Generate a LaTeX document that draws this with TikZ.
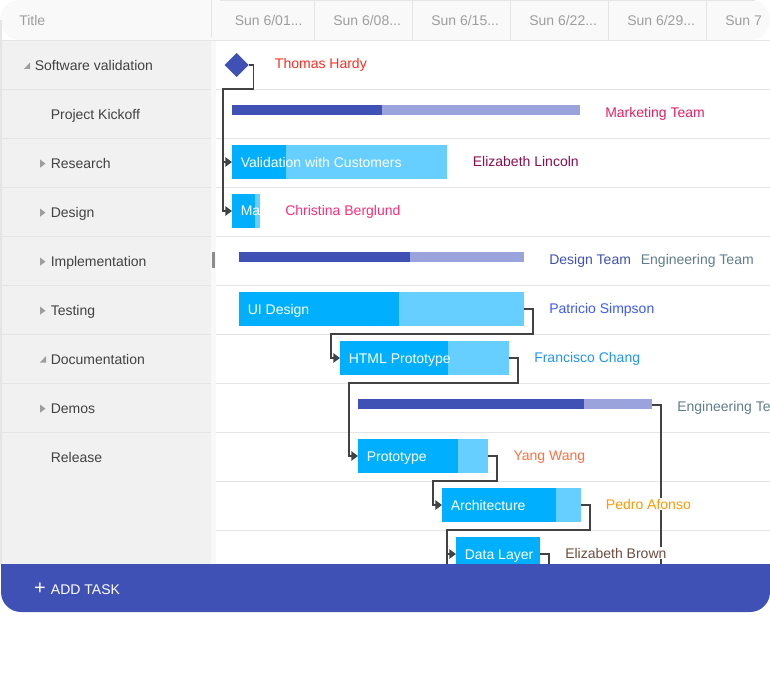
\documentclass[tikz,border=0pt]{standalone}
\usepackage{fontspec}
\setmainfont{Liberation Sans}
\usetikzlibrary{arrows.meta,positioning}

\definecolor{headbg}{HTML}{F9F9F9}
\definecolor{panebg}{HTML}{F1F1F1}
\definecolor{stripbg}{HTML}{F8F8F8}
\definecolor{gridline}{HTML}{E5E5E5}
\definecolor{headtext}{HTML}{9E9E9E}
\definecolor{rowtext}{HTML}{424242}
\definecolor{indigo}{HTML}{3F51B5}
\definecolor{indigolight}{HTML}{9AA3DC}
\definecolor{sky}{HTML}{00B0FF}
\definecolor{skylight}{HTML}{66CFFF}

\begin{document}
\begin{tikzpicture}[
    x=0.75pt, y=-0.75pt,
    font=\fontsize{10.5pt}{12pt}\selectfont,
    bar/.style={rectangle, anchor=north west, inner sep=0pt, outer sep=0pt, minimum height=25.5pt},
    summary/.style={rectangle, anchor=north west, inner sep=0pt, outer sep=0pt, minimum height=7.5pt},
    wide/.style={minimum width=#1*0.75pt},
    headcell/.style={anchor=base west, inner sep=0pt, text=headtext},
    rowtitle/.style={anchor=base west, inner sep=0pt, text=rowtext},
    tasktext/.style={anchor=base west, inner sep=0pt, text=white},
    person/.style={anchor=base west, inner xsep=0pt, inner ysep=1pt, fill=white},
    grid/.style={draw=gridline, line width=0.75pt},
    twisty/.style={fill=headtext},
    link/.style={draw=rowtext, line width=1.35pt},
    arrow/.style={link, -{Triangle[length=5pt,width=7pt]}}
]
\useasboundingbox (0,0) rectangle (770,677);

% header and panes
\fill[headbg, rounded corners=15pt] (0,40) -- (0,0) -- (770,0) -- (770,40) -- cycle;
\fill[panebg] (1.5,40) rectangle (211,564);
\fill[stripbg] (211,40) rectangle (216,564);
\fill[white] (216,40) rectangle (770,564);
\fill[gridline] (0,20) rectangle (1.5,564);
\fill[gray!90] (212,252) rectangle (215,268);

\draw[grid] (220,0.4) -- (755,0.4);
\draw[grid] (0,40.5) -- (770,40.5);
\draw[grid] (211,0) -- (211,38);
\draw[grid] (314.6,0) -- (314.6,40);
\draw[grid] (412.6,0) -- (412.6,40);
\draw[grid] (510.6,0) -- (510.6,40);
\draw[grid] (608.6,0) -- (608.6,40);
\draw[grid] (706.6,0) -- (706.6,40);

% row lines
\draw[grid] (2,89.5) -- (211,89.5) (216,89.5) -- (770,89.5);
\draw[grid] (2,138.5) -- (211,138.5) (216,138.5) -- (770,138.5);
\draw[grid] (2,187.5) -- (211,187.5) (216,187.5) -- (770,187.5);
\draw[grid] (2,236.5) -- (211,236.5) (216,236.5) -- (770,236.5);
\draw[grid] (2,285.5) -- (211,285.5) (216,285.5) -- (770,285.5);
\draw[grid] (2,334.5) -- (211,334.5) (216,334.5) -- (770,334.5);
\draw[grid] (2,383.5) -- (211,383.5) (216,383.5) -- (770,383.5);
\draw[grid] (2,432.5) -- (211,432.5) (216,432.5) -- (770,432.5);
\draw[grid] (216,481.5) -- (770,481.5);
\draw[grid] (216,530.5) -- (770,530.5);

% header texts
\node[headcell] (title) at (19,26) {Title};
\node[headcell] (week1) at (234.5,26) {Sun 6/01...};
\node[headcell] (week2) at (333,26) {Sun 6/08...};
\node[headcell] (week3) at (431,26) {Sun 6/15...};
\node[headcell] (week4) at (529,26) {Sun 6/22...};
\node[headcell] (week5) at (627,26) {Sun 6/29...};
\node[headcell] (week6) at (725,26) {Sun 7};

% tree column
\node[rowtitle] (software) at (34.5,70.6) {Software validation};
\node[rowtitle] (kickoff) at (50.5,119.6) {Project Kickoff};
\node[rowtitle] (research) at (50.5,168.6) {Research};
\node[rowtitle] (design) at (50.5,217.6) {Design};
\node[rowtitle] (implementation) at (50.5,266) {Implementation};
\node[rowtitle] (testing) at (50.5,315) {Testing};
\node[rowtitle] (documentation) at (50.5,364) {Documentation};
\node[rowtitle] (demos) at (50.5,413) {Demos};
\node[rowtitle] (release) at (50.5,462) {Release};

\fill[twisty] (30,62.5) -- (30,69) -- (24,69) -- cycle;
\fill[twisty] (46,356) -- (46,362.5) -- (40,362.5) -- cycle;
\fill[twisty] (40,159.5) -- (45.5,163.7) -- (40,167.7) -- cycle;
\fill[twisty] (40,208.5) -- (45.5,212.7) -- (40,216.7) -- cycle;
\fill[twisty] (40,257.5) -- (45.5,261.7) -- (40,265.7) -- cycle;
\fill[twisty] (40,306.5) -- (45.5,310.7) -- (40,314.7) -- cycle;
\fill[twisty] (40,404.5) -- (45.5,408.7) -- (40,412.7) -- cycle;

% bars
\coordinate (tipE) at (248.5,65);
\fill[indigo] (224.5,65) -- (236.5,53) -- (tipE) -- (236.5,77) -- cycle;

\node[summary, wide=348, fill=indigolight] (marketing) at (232,105) {};
\node[summary, wide=150, fill=indigo] (marketingdone) at (232,105) {};

\node[bar, wide=215, fill=skylight] (validation) at (232,145) {};
\node[bar, wide=54, fill=sky] (validationdone) at (232,145) {};
\node[tasktext] (validationtext) at (240.5,167.6) {Validation with Customers};

\node[bar, wide=28, fill=skylight] (market) at (232,194) {};
\node[bar, wide=23, fill=sky] (marketdone) at (232,194) {};
\node[tasktext] (markettext) at (240.5,216) {Ma};

\node[summary, wide=285, fill=indigolight] (designteam) at (239,252) {};
\node[summary, wide=171, fill=indigo] (designteamdone) at (239,252) {};

\node[bar, wide=285, fill=skylight] (uidesign) at (239,292) {};
\node[bar, wide=160, fill=sky] (uidesigndone) at (239,292) {};
\node[tasktext] (uidesigntext) at (247.5,314) {UI Design};

\node[bar, wide=169, fill=skylight] (html) at (340,341) {};
\node[bar, wide=108, fill=sky] (htmldone) at (340,341) {};
\node[tasktext] (htmltext) at (348.5,363) {HTML Prototype};

\node[summary, wide=294, fill=indigolight] (engineering) at (358,399) {};
\node[summary, wide=226, fill=indigo] (engineeringdone) at (358,399) {};

\node[bar, wide=130, fill=skylight] (prototype) at (358,439) {};
\node[bar, wide=100, fill=sky] (prototypedone) at (358,439) {};
\node[tasktext] (prototypetext) at (366.5,461) {Prototype};

\node[bar, wide=139, fill=skylight] (architecture) at (442,488) {};
\node[bar, wide=114, fill=sky] (architecturedone) at (442,488) {};
\node[tasktext] (architecturetext) at (450.5,510) {Architecture};

\node[bar, wide=84, fill=sky] (datalayer) at (456,537) {};
\node[tasktext] (datalayertext) at (464.5,559) {Data Layer};

% connectors
\coordinate (bend1) at (223,89);
\coordinate (bend2) at (331,334);
\coordinate (bend3) at (349,383);
\coordinate (bend4) at (433,481);
\coordinate (bend5) at (447,530);
\coordinate (drop1) at (447,565);
\coordinate (drop2) at (549,565);
\coordinate (drop3) at (661,565);

\draw[arrow] (tipE) -- ++(5,0) |- (bend1) |- (validation.west);
\draw[arrow] (bend1) |- (market.west);
\draw[arrow] (uidesign.east) -- ++(9,0) |- (bend2) |- (html.west);
\draw[arrow] (html.east) -- ++(9,0) |- (bend3) |- (prototype.west);
\draw[arrow] (prototype.east) -- ++(9,0) |- (bend4) |- (architecture.west);
\draw[arrow] (architecture.east) -- ++(9,0) |- (bend5) |- (datalayer.west);
\draw[link] (bend5) -- (drop1);
\draw[link] (datalayer.east) -| (drop2);
\draw[link] (engineering.east) ++(0,1) -| (drop3);

% resource labels
\node[person, text={rgb,255:red,255;green,45;blue,32}] (hardy) at (274.7,68.7) {Thomas Hardy};
\node[person, text={rgb,255:red,233;green,30;blue,99}] (marketingteam) at (605,117.6) {Marketing Team};
\node[person, text={rgb,255:red,136;green,14;blue,79}] (lincoln) at (472.6,166.6) {Elizabeth Lincoln};
\node[person, text={rgb,255:red,255;green,45;blue,120}] (berglund) at (285,215) {Christina Berglund};
\node[person, text=indigo] (designlabel) at (549,264) {Design Team};
\node[person, text={rgb,255:red,96;green,125;blue,139}] (englabel) at (640.6,264) {Engineering Team};
\node[person, text={rgb,255:red,61;green,90;blue,254}] (simpson) at (549,313) {Patricio Simpson};
\node[person, text={rgb,255:red,33;green,150;blue,243}] (chang) at (534,362) {Francisco Chang};
\node[person, text={rgb,255:red,96;green,125;blue,139}] (englabeltwo) at (677,411) {Engineering Te};
\node[person, text={rgb,255:red,255;green,112;blue,67}] (wang) at (513.3,460) {Yang Wang};
\node[person, text={rgb,255:red,255;green,152;blue,0}] (afonso) at (605.7,509) {Pedro Afonso};
\node[person, text={rgb,255:red,109;green,76;blue,65}] (brown) at (565,558) {Elizabeth Brown};

% add task band
\fill[indigo] (1,564) [rounded corners=15pt] -- (1,612) -- (770,612) [sharp corners] -- (770,564) -- cycle;
\node[anchor=center, inner sep=0pt, text=white, font=\fontsize{15pt}{15pt}\selectfont] (plus) at (40,589) {+};
\node[anchor=base west, inner sep=0pt, text=white] (addtask) at (50.7,594) {ADD TASK};

\end{tikzpicture}
\end{document}
